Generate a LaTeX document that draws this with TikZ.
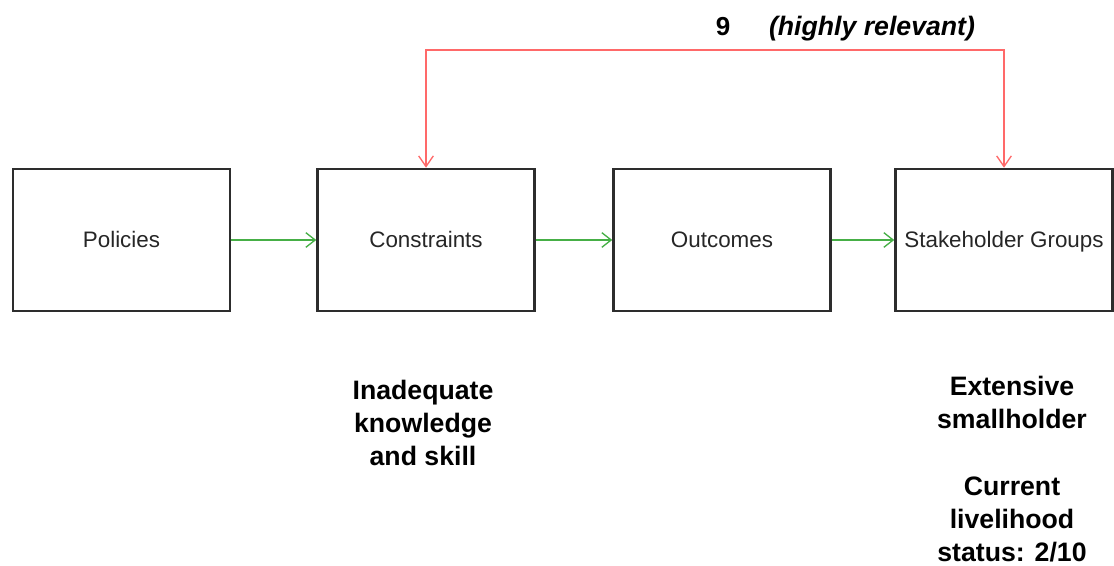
\documentclass[tikz,border=0pt]{standalone}
\usepackage{fontspec}
\setmainfont{Liberation Sans}
\usetikzlibrary{arrows.meta}
\definecolor{linkgreen}{RGB}{70,175,70}
\definecolor{linkred}{RGB}{255,105,105}
\definecolor{boxline}{RGB}{45,45,45}
\tikzset{
  stagebox/.style={draw=boxline, line width=1.9pt, fill=white,
    minimum width=162.75pt, minimum height=106.5pt, inner sep=0pt,
    text height=12pt, text depth=0pt,
    font=\fontsize{16.8}{20}\selectfont, text=black!85},
  flow/.style={draw=linkgreen, line width=1pt,
    -{Straight Barb[length=7pt,width=11pt,line width=1pt]}},
  relevance/.style={draw=linkred, line width=1.5pt,
    {Straight Barb[length=8pt,width=11pt,line width=1pt]}-{Straight Barb[length=8pt,width=11pt,line width=1pt]}},
  note/.style={font=\bfseries\fontsize{20}{25}\selectfont, align=center, inner sep=0pt},
  toplabel/.style={font=\bfseries\fontsize{19.5}{22}\selectfont, inner sep=0pt},
}
\begin{document}
\begin{tikzpicture}[x=0.75pt,y=-0.75pt]
  \useasboundingbox (0,0) rectangle (1114,566);

  % stages of the pathway
  \node[stagebox] (pol) at (121.5,240) {Policies};
  \node[stagebox] (con) at (426,240) {Constraints};
  \node[stagebox] (out) at (722,240) {Outcomes};
  \node[stagebox] (stk) at (1004,240) {Stakeholder Groups};

  % forward links
  \draw[flow] (pol.east) -- (con.west);
  \draw[flow] (con.east) -- (out.west);
  \draw[flow] (out.east) -- (stk.west);

  % relevance link over the top
  \coordinate (top) at (0,50);
  \draw[relevance] (con.north) -- (con.north |- top) -- (stk.north |- top) -- (stk.north);

  \node[toplabel] (score) at (723,27) {9};
  \node[toplabel, font=\bfseries\itshape\fontsize{20}{22}\selectfont] (rel) at (872,29) {(highly relevant)};

  % notes under the stages
  \node[note] (cnote) at (423,423) {Inadequate\\knowledge\\and skill};
  \node[note] (snote) at (1012,469) {Extensive\\smallholder\\[25pt]Current\\livelihood\\status: 2/10};
\end{tikzpicture}
\end{document}
